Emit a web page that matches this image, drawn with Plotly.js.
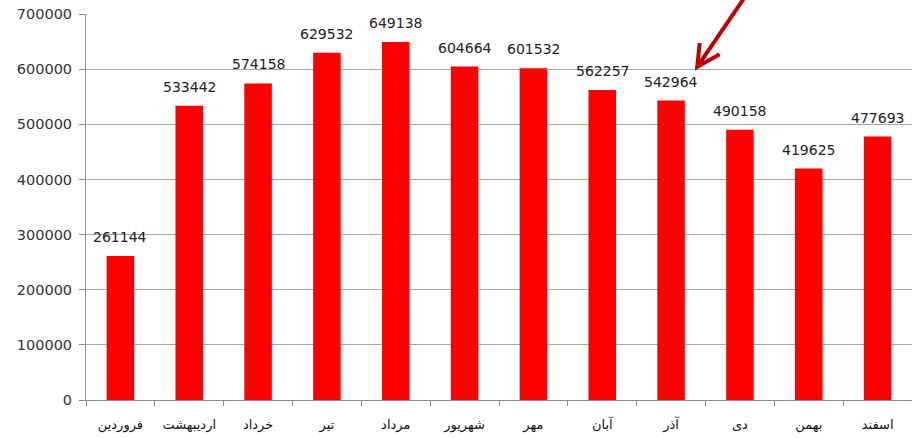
<!DOCTYPE html>
<html><head><meta charset="utf-8">
<script src="https://cdn.plot.ly/plotly-3.0.1.min.js"></script>
<style>html,body{margin:0;padding:0;background:#fff}</style>
</head><body>
<div id="chart" style="width:912px;height:438px"></div>
<script>
const months = ["فروردین","اردیبهشت","خرداد","تیر","مرداد","شهریور","مهر","آبان","آذر","دی","بهمن","اسفند"];
const values = [261144,533442,574158,629532,649138,604664,601532,562257,542964,490158,419625,477693];
const yTicks = [0,100000,200000,300000,400000,500000,600000,700000];

const trace = {
  type: 'bar', x: months, y: values,
  marker: {color: '#ff0000'},
  hoverinfo: 'none'
};
const labels = months.map((m, i) => ({
  x: m, y: values[i], xref: 'x', yref: 'y',
  text: String(values[i]), showarrow: false,
  yanchor: 'bottom', yshift: 9,
  font: {family: 'DejaVu Sans', size: 14, color: '#222'}
}));
const layout = {
  width: 912, height: 438,
  margin: {l: 86, r: 0, t: 14, b: 38},
  paper_bgcolor: '#fff', plot_bgcolor: '#fff',
  bargap: 0.6, showlegend: false,
  font: {family: 'DejaVu Sans', color: '#333'},
  xaxis: {
    type: 'category', showgrid: false, showline: true, linecolor: '#8c8c8c', linewidth: 1,
    ticks: 'outside', tickson: 'boundaries', ticklen: 5, tickcolor: '#8c8c8c',
    ticklabelstandoff: 12,
    tickfont: {family: 'DejaVu Sans', size: 13, color: '#111'}, fixedrange: true
  },
  yaxis: {
    range: [0, 700000], tickvals: yTicks, ticktext: yTicks.map(String),
    showgrid: true, gridcolor: '#a6a6a6', gridwidth: 1, zeroline: false,
    showline: true, linecolor: '#8c8c8c', linewidth: 1,
    ticks: 'outside', ticklen: 6, tickcolor: '#8c8c8c', ticklabelstandoff: 4,
    tickfont: {family: 'DejaVu Sans', size: 14.5, color: '#333'}, fixedrange: true
  },
  annotations: labels,
  shapes: [{
    type: 'path', xref: 'paper', yref: 'paper',
    path: 'M 0.798 1.045 L 0.740 0.863 M 0.743 0.925 L 0.740 0.863 L 0.767 0.896',
    line: {color: '#c00000', width: 4}
  }]
};
Plotly.newPlot('chart', [trace], layout, {staticPlot: true});
</script>
</body></html>
